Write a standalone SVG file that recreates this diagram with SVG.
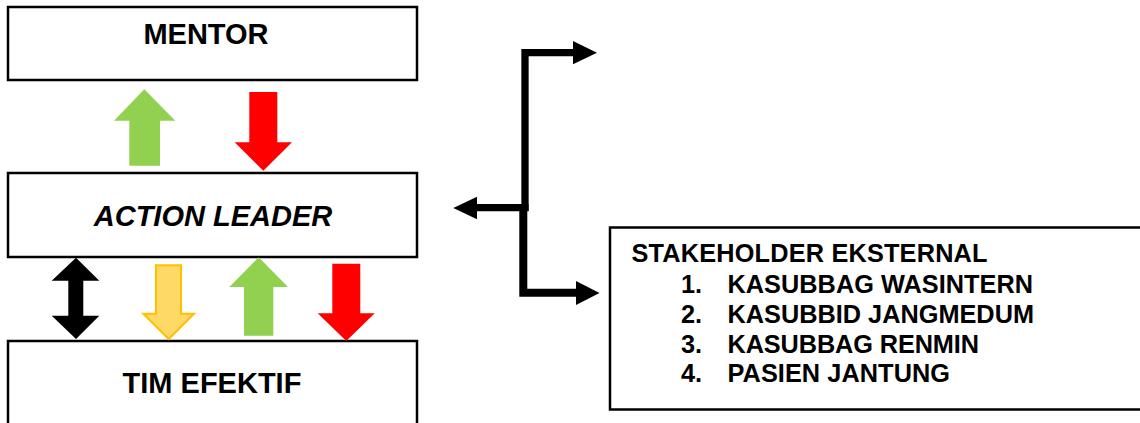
<svg xmlns="http://www.w3.org/2000/svg" width="1140" height="423" viewBox="0 0 1140 423">
  <style>
    .box { fill: #ffffff; stroke: #000000; stroke-width: 2.5; }
    .title { font-family: "Liberation Sans", Arial, sans-serif; font-weight: bold; font-size: 29px; fill: #000000; text-anchor: middle; }
    .list { font-family: "Liberation Sans", Arial, sans-serif; font-weight: bold; font-size: 25.3px; fill: #000000; }
    .green { fill: #92D050; }
    .red { fill: #FF0000; }
    .black { fill: #000000; }
    .yellow { fill: #FFD966; stroke: #FFC000; stroke-width: 2; stroke-linejoin: miter; }
    .link { fill: none; stroke: #000000; stroke-linejoin: miter; stroke-linecap: butt; }
  </style>

  <!-- Mentor -->
  <g id="mentor">
    <rect class="box" x="8" y="7" width="409" height="73"/>
    <text class="title" x="206" y="44">MENTOR</text>
  </g>

  <!-- Action leader -->
  <g id="action-leader">
    <rect class="box" x="8" y="173" width="409" height="84"/>
    <text class="title" x="213" y="226" font-style="italic">ACTION LEADER</text>
  </g>

  <!-- Tim efektif -->
  <g id="tim-efektif">
    <rect class="box" x="8" y="341" width="409" height="95"/>
    <text class="title" x="212" y="393">TIM EFEKTIF</text>
  </g>

  <!-- External stakeholders -->
  <g id="stakeholder-eksternal">
    <rect class="box" x="610" y="227.5" width="540" height="182"/>
    <text class="list" x="631.5" y="262" textLength="356" lengthAdjust="spacing">STAKEHOLDER EKSTERNAL</text>
    <text class="list" x="681" y="293">1.</text>
    <text class="list" x="727.5" y="293" textLength="305.5" lengthAdjust="spacing">KASUBBAG WASINTERN</text>
    <text class="list" x="681" y="322.5">2.</text>
    <text class="list" x="727.5" y="322.5" textLength="306.5" lengthAdjust="spacing">KASUBBID JANGMEDUM</text>
    <text class="list" x="681" y="352.5">3.</text>
    <text class="list" x="727.5" y="352.5" textLength="251.5" lengthAdjust="spacing">KASUBBAG RENMIN</text>
    <text class="list" x="681" y="382">4.</text>
    <text class="list" x="727.5" y="382" textLength="222.5" lengthAdjust="spacing">PASIEN JANTUNG</text>
  </g>

  <!-- Connectors -->
  <g id="connectors">
    <!-- Mentor <-> Action leader -->
    <polygon class="green" points="144.3,89.3 175.3,120.7 160,120.7 160,165.7 129.3,165.7 129.3,120.7 114,120.7"/>
    <polygon class="red" points="249.3,92 277.3,92 277.3,142.3 292,142.3 263.3,170.7 234.7,142.3 249.3,142.3"/>

    <!-- Action leader <-> Tim efektif -->
    <polygon class="black" points="76,257.7 99.3,280.7 83.3,280.7 83.3,315.7 99.3,315.7 76,339 51.7,315.7 68.3,315.7 68.3,280.7 51.7,280.7"/>
    <polygon class="yellow" points="156,265.3 181,265.3 181,313.7 194,313.7 168.7,339 143.3,313.7 156,313.7"/>
    <polygon class="green" points="258.7,257.3 288,287 273.3,287 273.3,335.7 244,335.7 244,287 229.3,287"/>
    <polygon class="red" points="332.3,263.7 360.3,263.7 360.3,313.3 374.7,313.3 346.3,341 317.7,313.3 332.3,313.3"/>

    <!-- Bracket branching to action leader and stakeholders -->
    <polyline class="link" stroke-width="7.3" points="525,211 525,52.7 574,52.7"/>
    <polygon class="black" points="573,41 597,52.7 573,64.3"/>

    <polyline class="link" stroke-width="7.3" points="528.5,207.7 476,207.7"/>
    <polygon class="black" points="477,196.7 453.3,208 477,219.3"/>

    <polyline class="link" stroke-width="8" points="523.3,208 523.3,292.7 577,292.7"/>
    <polygon class="black" points="576,281 599.5,293 576,305"/>
  </g>
</svg>
